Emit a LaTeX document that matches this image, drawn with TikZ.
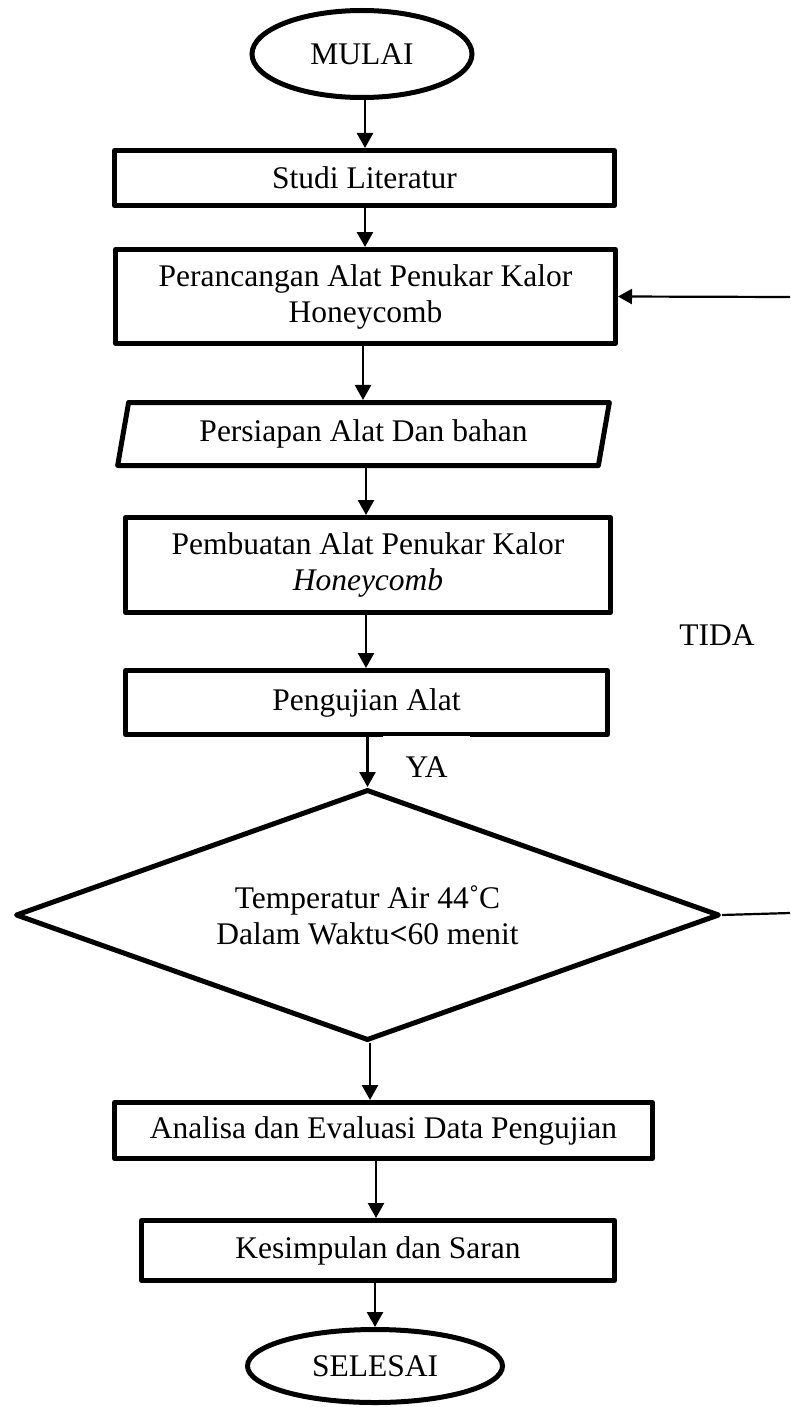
\documentclass[tikz,border=0pt]{standalone}
\usepackage{fontspec}
\setmainfont{Liberation Serif}
\usetikzlibrary{shapes.geometric,arrows.meta}
\begin{document}
\begin{tikzpicture}[x=1pt,y=-1pt,
  every node/.style={font=\fontsize{31.5}{36}\selectfont, inner sep=0pt, align=center},
  box/.style={draw, rectangle, line width=5pt, line join=round},
  term/.style={draw, ellipse, line width=5pt},
  io/.style={draw, trapezium, trapezium left angle=75, trapezium right angle=105,
    trapezium stretches=true, line width=5pt, line join=round},
  decision/.style={draw, diamond, aspect=2.8, line width=5pt, line join=round},
  arr/.style={line width=2.5pt, -{Triangle[length=15pt,width=16pt]}},
  back/.style={line width=2.2pt},
  backarr/.style={line width=2.2pt, -{Triangle[length=14pt,width=15pt]}}
]
\useasboundingbox (0,0) rectangle (790,1407);

\node[term, minimum width=220pt, minimum height=87pt] (mulai) at (362,54) {MULAI};
\node[box, minimum width=500pt, minimum height=55pt] (studi) at (364.5,178) {Studi Literatur};
\node[box, minimum width=500pt, minimum height=94pt] (per) at (365.5,296.5) {Perancangan Alat Penukar Kalor\\Honeycomb};
\node[io, minimum width=494pt, minimum height=63pt] (prep) at (363.5,434) {Persiapan Alat Dan bahan};
\node[box, minimum width=485pt, minimum height=95pt] (pemb) at (368,565) {Pembuatan Alat Penukar Kalor\\\textit{Honeycomb}};
\node[box, minimum width=482pt, minimum height=64pt] (uji) at (366.5,702.5) {Pengujian Alat};
\node[decision, minimum width=704pt, minimum height=251pt] (dia) at (367.5,915)
  {\fontsize{31.5}{39}\selectfont Temperatur Air 44\char"02DA C\\Dalam Waktu\textbf{<}60 menit};
\node[box, minimum width=538pt, minimum height=56pt] (ana) at (383.5,1130.5) {Analisa dan Evaluasi Data Pengujian};
\node[box, minimum width=473pt, minimum height=60pt] (kes) at (378,1250.5) {Kesimpulan dan Saran};
\node[term, minimum width=255pt, minimum height=73pt] (sel) at (375,1366) {SELESAI};

\node (tida) at (717,635) {TIDA};

\coordinate (r1) at (790,913);
\coordinate (r2) at (790,297);

\draw[arr] (mulai.south -| 365,0) -- (studi.north -| 365,0);
\draw[arr] (studi.south -| 365,0) -- (per.north -| 365,0);
\draw[arr] (per.south -| 363,0) -- (prep.north -| 363,0);
\draw[arr] (prep.south -| 366,0) -- (pemb.north -| 366,0);
\draw[arr] (pemb.south -| 366,0) -- (uji.north -| 366,0);
\draw[arr] (uji.south -| dia.north) -- (dia.north);
\draw[arr] (dia.south -| 370,0) -- (ana.north -| 370,0);
\draw[arr] (ana.south -| 376,0) -- (kes.north -| 376,0);
\draw[arr] (kes.south -| sel.north) -- (sel.north);

\draw[back] (dia.east) -- (r1);
\draw[backarr] (r2) -- (per.east);

\node[fill=white, minimum width=87pt, minimum height=52.5pt] (ya) at (426.5,761.75) {\raisebox{-6pt}[20pt][0pt]{YA}};
\end{tikzpicture}
\end{document}
